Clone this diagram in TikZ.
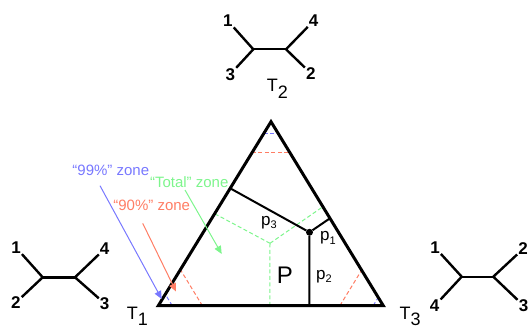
\documentclass[tikz,border=0pt]{standalone}
\usepackage{fontspec}
\setmainfont{Liberation Sans}
\usetikzlibrary{arrows.meta,calc}
\definecolor{zoneblue}{RGB}{120,120,255}
\definecolor{zonered}{RGB}{255,125,100}
\definecolor{zonegreen}{RGB}{125,245,140}
\newcommand\lowsub[1]{\raisebox{-6.5pt}{#1}}
\newcommand\psub[1]{\raisebox{-3.5pt}{\fontsize{11}{11}\selectfont #1}}

\begin{document}
\begin{tikzpicture}[x=1pt,y=-1pt,
    side/.style={line width=3pt,line join=miter},
    branch/.style={line width=2.4pt},
    cut/.style={line width=2pt},
    zone/.style={line width=1pt,dash pattern=on 4pt off 2.5pt},
    pointer/.style={line width=1pt,-{Triangle[length=8pt,width=7pt]}},
    leaf/.style={font=\fontsize{17}{17}\selectfont\bfseries,inner sep=1pt},
    tree/.style={font=\fontsize{18}{18}\selectfont,inner sep=0pt,anchor=base west},
    part/.style={font=\fontsize{17}{17}\selectfont,inner sep=0pt,anchor=base west},
    note/.style={font=\fontsize{15}{15}\selectfont,inner sep=0pt}]
  \useasboundingbox (0,0) rectangle (528,329);
  % corners of the simplex
  \coordinate (c1) at (158.3,305.7);
  \coordinate (c2) at (271,121.7);
  \coordinate (c3) at (383.3,305.7);
  % "99%" zone
  \draw[zone,zoneblue] ($(c2)!0.065!(c1)$) -- ($(c2)!0.065!(c3)$);
  \draw[zone,zoneblue] ($(c1)!0.062!(c3)$) -- ($(c1)!0.062!(c2)$);
  \draw[zone,zoneblue] ($(c3)!0.045!(c1)$) -- ($(c3)!0.045!(c2)$);
  % "90%" zone
  \draw[zone,zonered] ($(c2)!0.17!(c1)$) -- ($(c2)!0.17!(c3)$);
  \draw[zone,zonered] ($(c1)!0.196!(c3)$) -- ($(c1)!0.196!(c2)$);
  \draw[zone,zonered] ($(c3)!0.193!(c1)$) -- ($(c3)!0.193!(c2)$);
  % "Total" zone
  \coordinate (g) at (270,243.3);
  \draw[zone,zonegreen] (g) -- ($(c1)!0.496!(c3)$);
  \draw[zone,zonegreen] (g) -- ($(c1)!0.5!(c2)$);
  \draw[zone,zonegreen] (g) -- ($(c3)!0.538!(c2)$);
  % triangle and the point P
  \draw[side] (c1) -- (c2) -- (c3) -- cycle;
  \node[circle,fill,inner sep=0pt,minimum size=7pt] (pt) at (309.5,232.3) {};
  \draw[cut] (pt) -- ($(c1)!0.638!(c2)$);
  \draw[cut] (pt) -- ($(c3)!0.475!(c2)$);
  \draw[cut] (pt) -- ($(c1)!0.671!(c3)$);
  \node[part] (p3lab) at (261,225) {p\psub{3}};
  \node[part] (p1lab) at (320,240.5) {p\psub{1}};
  \node[part] (p2lab) at (316,279) {p\psub{2}};
  \node[font=\fontsize{24}{24}\selectfont,inner sep=0pt] (plab) at (285,275.3) {P};
  % tree T_2
  \coordinate (t2a) at (253.3,49.3);
  \coordinate (t2b) at (286,49.3);
  \node[leaf] (t2n1) at (227.8,20.8) {1};
  \node[leaf] (t2n3) at (230.3,74.2) {3};
  \node[leaf] (t2n4) at (313.7,20.8) {4};
  \node[leaf] (t2n2) at (310.8,73.3) {2};
  \draw[branch] (t2n1) -- (t2a) -- (t2n3);
  \draw[branch] (t2a) -- (t2b);
  \draw[branch] (t2n4) -- (t2b) -- (t2n2);
  \node[tree] (t2lab) at (266.7,91.7) {T\lowsub{2}};
  % tree T_1
  \coordinate (t1a) at (42.7,277.3);
  \coordinate (t1b) at (75,277.3);
  \node[leaf] (t1n1) at (16,247.5) {1};
  \node[leaf] (t1n2) at (15.8,302.7) {2};
  \node[leaf] (t1n4) at (104.7,248.8) {4};
  \node[leaf] (t1n3) at (104.7,303.5) {3};
  \draw[branch] (t1n1) -- (t1a) -- (t1n2);
  \draw[branch] (t1a) -- (t1b);
  \draw[branch] (t1n4) -- (t1b) -- (t1n3);
  \node[tree] (t1lab) at (126.7,319) {T\lowsub{1}};
  % tree T_3
  \coordinate (t3a) at (461.7,276.7);
  \coordinate (t3b) at (493.3,276.7);
  \node[leaf] (t3n1) at (435,247.5) {1};
  \node[leaf] (t3n4) at (434.7,305.8) {4};
  \node[leaf] (t3n2) at (523,249) {2};
  \node[leaf] (t3n3) at (523.5,305.5) {3};
  \draw[branch] (t3n1) -- (t3a) -- (t3n4);
  \draw[branch] (t3a) -- (t3b);
  \draw[branch] (t3n2) -- (t3b) -- (t3n3);
  \node[tree] (t3lab) at (399.5,319) {T\lowsub{3}};
  % zone labels and pointers
  \node[note,zoneblue] (z99) at (110.8,170) {“99\%” zone};
  \node[note,zonered] (z90) at (151.7,205) {“90\%” zone};
  \node[note,zonegreen] (ztot) at (189.2,182.5) {“Total” zone};
  \coordinate (b0) at (100,185.7);
  \coordinate (b1) at (161.7,299);
  \coordinate (r0) at (142.7,223.3);
  \coordinate (r1) at (176,291.5);
  \coordinate (g0) at (185,190);
  \coordinate (g1) at (221.7,254);
  \draw[pointer,zoneblue] (b0) -- (b1);
  \draw[pointer,zonered] (r0) -- (r1);
  \draw[pointer,zonegreen] (g0) -- (g1);
\end{tikzpicture}
\end{document}
